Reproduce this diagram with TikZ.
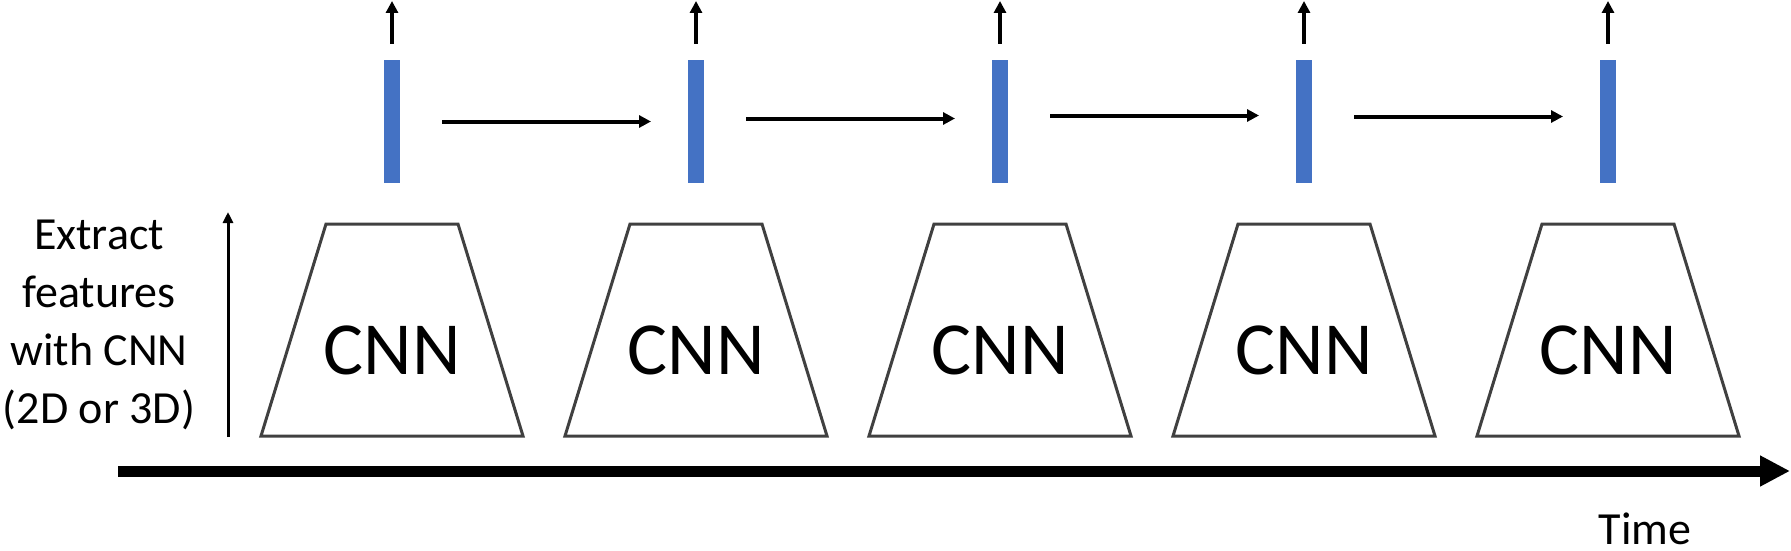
\documentclass[tikz,border=0pt]{standalone}
\usepackage{fontspec}
\setmainfont{Carlito}
\usetikzlibrary{arrows.meta}
\definecolor{barblue}{HTML}{4472C4}
\definecolor{trapgray}{HTML}{404040}
\begin{document}
\begin{tikzpicture}[x=1pt,y=-1pt,
  trap/.style={draw=trapgray,line width=3pt,line join=miter},
  cnntext/.style={font=\fontsize{75}{90}\selectfont,inner sep=0pt,anchor=center},
  featbar/.style={fill=barblue,draw=none,minimum width=16pt,minimum height=123pt,inner sep=0pt,outer sep=0pt},
  uparrow/.style={line width=4pt,-{Triangle[length=12pt,width=12pt]}},
  harrow/.style={line width=4pt,-{Triangle[length=12pt,width=12pt]}},
  larrow/.style={line width=3pt,-{Triangle[length=11pt,width=10pt]}},
  timearrow/.style={line width=11pt,-{Triangle[length=30pt,width=29pt]}},
  lbl/.style={font=\fontsize{46}{58}\selectfont,inner sep=0pt}]
\useasboundingbox (0,0) rectangle (1791,551);
\foreach \i in {0,...,4} {
  \pgfmathsetmacro\cx{392+304*\i}
  \draw[trap] (\cx-66,224) -- (\cx+66,224) -- (\cx+131,436) -- (\cx-131,436) -- cycle;
  \node[cnntext] (cnn\i) at (\cx,350) {CNN};
  \node[featbar] (bar\i) at (\cx,121.5) {};
  \coordinate (out\i) at (\cx,1);
  \draw[uparrow] ([yshift=16pt]bar\i.north) -- (out\i);
}
\foreach \i/\j/\dy in {0/1/0,1/2/3,2/3/6,3/4/5}
  \draw[harrow,shorten <=42pt,shorten >=37pt] ([yshift=\dy pt]bar\i.east) -- ([yshift=\dy pt]bar\j.west);
\coordinate (fb) at (228,437);
\coordinate (ft) at (228,212);
\draw[larrow] (fb) -- (ft);
\coordinate (t0) at (118,471);
\coordinate (t1) at (1790,471);
\draw[timearrow] (t0) -- (t1);
\node[lbl,anchor=base] (time) at (1645,544) {Time};
\node[lbl,align=center,anchor=base] (extract) at (99,423) {Extract\\features\\with CNN\\(2D or 3D)};
\end{tikzpicture}
\end{document}
